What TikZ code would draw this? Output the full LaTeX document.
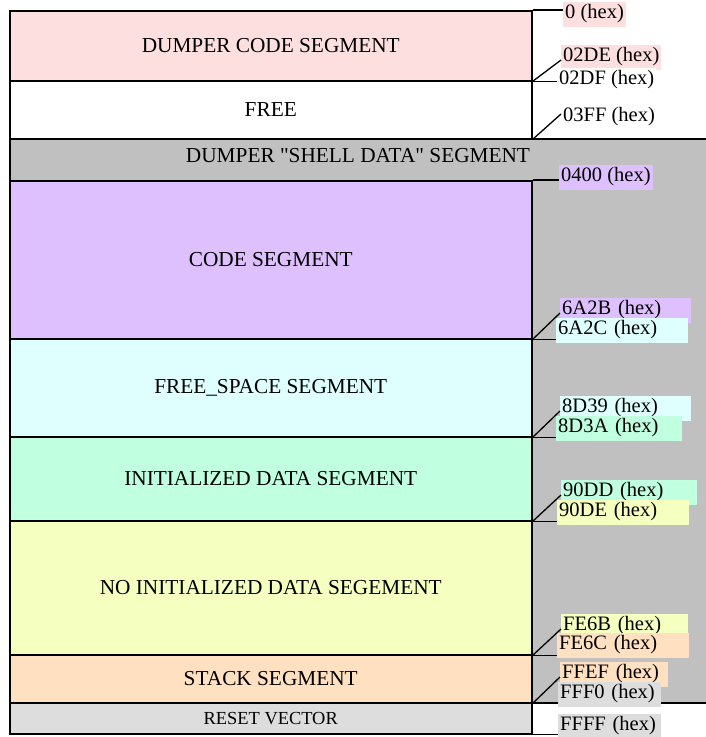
\documentclass[tikz,border=0pt]{standalone}
\usepackage{fontspec}
\setmainfont{Liberation Serif}[Ligatures=TeXOff]
\usetikzlibrary{positioning, calc}

\definecolor{dumperpink}{HTML}{FDDFDF}
\definecolor{shellgray}{HTML}{C0C0C0}
\definecolor{codepurple}{HTML}{DFC0FF}
\definecolor{freecyan}{HTML}{DFFFFF}
\definecolor{initmint}{HTML}{C0FFDF}
\definecolor{noinityellow}{HTML}{F5FFC0}
\definecolor{stackpeach}{HTML}{FFE0C0}
\definecolor{resetgray}{HTML}{DDDDDD}

\begin{document}
\begin{tikzpicture}[
    x=1pt, y=-1pt,
    seg/.style={rectangle, draw, line width=1.5pt, minimum width=522pt, inner sep=0pt, anchor=north west, font=\fontsize{21.3}{25}\selectfont},
    addr/.style={anchor=west, inner xsep=2pt, inner ysep=0pt, minimum height=25pt, align=left, font=\fontsize{20.5}{24}\selectfont},
    wideaddr/.style={addr, text width=#1},
    tick/.style={line width=1.3pt},
]
\useasboundingbox (0,0) rectangle (705,737);

% shell data area behind the lower segments
\node[seg, fill=shellgray, minimum width=700pt, minimum height=564pt] (shell) at (9,138) {};
\node[font=\fontsize{21.3}{25}\selectfont] (shelltxt) at (358,156) {DUMPER "SHELL DATA" SEGMENT};

% memory segments
\node[seg, fill=dumperpink, minimum height=70pt] (dcode) at (9,10) {DUMPER CODE SEGMENT};
\node[seg, fill=white, minimum height=58pt] (free) at (9,80) {FREE};
\node[seg, fill=codepurple, minimum height=158pt] (code) at (9,180) {CODE SEGMENT};
\node[seg, fill=freecyan, minimum height=98pt] (freesp) at (9,338) {FREE\_SPACE SEGMENT};
\node[seg, fill=initmint, minimum height=84pt] (init) at (9,436) {INITIALIZED DATA SEGMENT};
\node[seg, fill=noinityellow, minimum height=134pt] (noinit) at (9,520) {NO INITIALIZED DATA SEGEMENT};
\node[seg, fill=stackpeach, minimum height=48pt] (stack) at (9,654) {STACK SEGMENT};
\node[seg, fill=resetgray, minimum height=31pt, font=\fontsize{18.4}{22}\selectfont] (reset) at (9,702) {RESET VECTOR};

% end addresses (drawn first, start addresses lie over them)
\node[addr, fill=dumperpink] (l02DE) at (561,57) {02DE (hex)};
\node[addr] (l03FF) at (561,117) {03FF (hex)};
\node[wideaddr=127pt, fill=codepurple] (l6A2B) at (560,310) {6A2B (hex)};
\node[wideaddr=127pt, fill=freecyan] (l8D39) at (560,408) {8D39 (hex)};
\node[wideaddr=132pt, fill=initmint] (l90DD) at (561,492) {90DD (hex)};
\node[wideaddr=123pt, fill=noinityellow] (lFE6B) at (561,626) {FE6B (hex)};
\node[wideaddr=104pt, fill=stackpeach] (lFFEF) at (560,674) {FFEF (hex)};

% start addresses
\node[addr, fill=dumperpink] (l0000) at (563,14) {0 (hex)};
\node[addr, fill=white] (l02DF) at (557,80) {02DF (hex)};
\node[addr, fill=codepurple] (l0400) at (559,177) {0400 (hex)};
\node[wideaddr=128pt, fill=freecyan] (l6A2C) at (556,330) {6A2C (hex)};
\node[wideaddr=122pt, fill=initmint] (l8D3A) at (556,428) {8D3A (hex)};
\node[wideaddr=128pt, fill=noinityellow] (l90DE) at (557,512) {90DE (hex)};
\node[wideaddr=128pt, fill=stackpeach] (lFE6C) at (557,645) {FE6C (hex)};
\node[wideaddr=99pt, fill=resetgray] (lFFF0) at (558,694) {FFF0 (hex)};
\node[wideaddr=99pt, fill=resetgray] (lFFFF) at (558,726) {FFFF (hex)};

% address ticks
\draw[tick] (dcode.north east) -- (l0000.west |- dcode.north east);
\draw[tick] (dcode.south east) -- ([yshift=-3pt]l02DE.west);
\draw[tick] (dcode.south east) -- (l02DF.west |- dcode.south east);
\draw[tick] (free.south east) -- ([yshift=3pt]l03FF.west);
\draw[tick] (code.north east) -- (l0400.west |- code.north east);
\draw[tick] (code.south east) -- ([yshift=-3pt]l6A2B.west);
\draw[tick] (code.south east) -- (l6A2C.west |- code.south east);
\draw[tick] (freesp.south east) -- ([yshift=-3pt]l8D39.west);
\draw[tick] (freesp.south east) -- (l8D3A.west |- freesp.south east);
\draw[tick] (init.south east) -- ([yshift=-3pt]l90DD.west);
\draw[tick] (init.south east) -- (l90DE.west |- init.south east);
\draw[tick] (noinit.south east) -- ([yshift=-3pt]lFE6B.west);
\draw[tick] (noinit.south east) -- (lFE6C.west |- noinit.south east);
\draw[tick] (stack.south east) -- ([yshift=-3pt]lFFEF.west);
\draw[tick] (stack.south east) -- (lFFF0.west |- stack.south east);
\draw[tick] (reset.south east) -- (lFFFF.west |- reset.south east);

\end{tikzpicture}
\end{document}
